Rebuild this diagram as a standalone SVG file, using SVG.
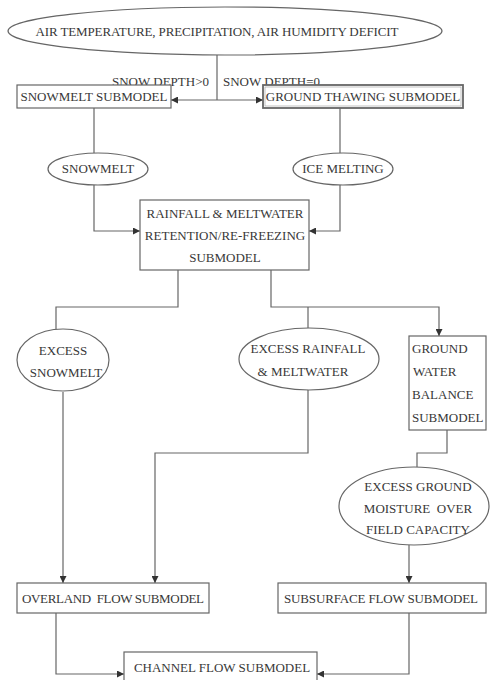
<svg xmlns="http://www.w3.org/2000/svg" width="491" height="680" viewBox="0 0 491 680">
<defs>
<marker id="arr" viewBox="0 0 10 10" refX="10" refY="5" markerWidth="7" markerHeight="7" markerUnits="userSpaceOnUse" orient="auto">
<path d="M0,0 L10,5 L0,10 z" fill="#333"/>
</marker>
<style>
.n{fill:#fff;stroke:#666;stroke-width:1.2}
.t{font-family:"Liberation Serif","Times New Roman",serif;font-size:13px;fill:#383838;text-anchor:middle}
.l{text-anchor:start}
.e{text-anchor:end}
.c{fill:none;stroke:#666;stroke-width:1.2}
.a{marker-end:url(#arr)}
</style>
</defs>
<rect width="491" height="680" fill="#fff"/>
<g id="connectors">
<path class="c" d="M217,55 V100"/>
<path class="c a" d="M217,100 H171"/>
<path class="c a" d="M217,100 H263"/>
<path class="c" d="M94,108 V153"/>
<path class="c" d="M340,108 V153"/>
<path class="c a" d="M94,185 V231 H140"/>
<path class="c a" d="M340,185 V231 H309"/>
<path class="c" d="M178,270 V307 H56 V330"/>
<path class="c a" d="M271,270 V307 H439 V336"/>
<path class="c" d="M308,307 V328"/>
<path class="c a" d="M63,392 V583"/>
<path class="c a" d="M308,389 V453 H155 V583"/>
<path class="c" d="M447,430 V453 H417 V467"/>
<path class="c a" d="M409,545 V583"/>
<path class="c a" d="M56,613 V674 H124"/>
<path class="c a" d="M409,613 V674 H317"/>
</g>
<g id="n-climate">
<ellipse class="n" cx="225" cy="31" rx="217" ry="24"/>
<text class="t" x="217" y="36" textLength="363">AIR TEMPERATURE, PRECIPITATION, AIR HUMIDITY DEFICIT</text>
</g>
<g id="lbl-depth">
<text class="t e" x="209" y="86">SNOW DEPTH&gt;0</text>
<text class="t l" x="223" y="86">SNOW DEPTH=0</text>
</g>
<g id="n-snowmelt-sub">
<rect class="n" x="17" y="85" width="154" height="23"/>
<text class="t" x="94" y="101">SNOWMELT SUBMODEL</text>
</g>
<g id="n-ground-thaw">
<rect class="n" x="263" y="85" width="200" height="23" style="stroke-width:1.8"/>
<rect x="265" y="87" width="196" height="19" fill="none" stroke="#999" stroke-width="0.6"/>
<text class="t" x="363" y="101">GROUND THAWING SUBMODEL</text>
</g>
<g id="n-snowmelt">
<ellipse class="n" cx="98" cy="169" rx="50" ry="16"/>
<text class="t" x="98" y="173">SNOWMELT</text>
</g>
<g id="n-icemelt">
<ellipse class="n" cx="343" cy="169" rx="50" ry="16"/>
<text class="t" x="343" y="173">ICE MELTING</text>
</g>
<g id="n-retention">
<rect class="n" x="140" y="200" width="169" height="70"/>
<text class="t" x="225" y="218">RAINFALL &amp; MELTWATER</text>
<text class="t" x="225" y="240">RETENTION/RE-FREEZING</text>
<text class="t" x="225" y="262">SUBMODEL</text>
</g>
<g id="n-excess-snowmelt">
<ellipse class="n" cx="63" cy="360" rx="46" ry="31"/>
<text class="t" x="63" y="355">EXCESS</text>
<text class="t" x="66" y="377">SNOWMELT</text>
</g>
<g id="n-excess-rain">
<ellipse class="n" cx="309" cy="359" rx="70" ry="31"/>
<text class="t" x="308" y="353">EXCESS RAINFALL</text>
<text class="t" x="303" y="376">&amp; MELTWATER</text>
</g>
<g id="n-groundwater">
<rect class="n" x="409" y="336" width="77" height="94"/>
<text class="t l" x="412" y="353">GROUND</text>
<text class="t l" x="413" y="376">WATER</text>
<text class="t l" x="412" y="399">BALANCE</text>
<text class="t l" x="412" y="422">SUBMODEL</text>
</g>
<g id="n-excess-ground">
<ellipse class="n" cx="414" cy="506" rx="75" ry="39"/>
<text class="t" x="418" y="491">EXCESS GROUND</text>
<text class="t" x="418" y="513" xml:space="preserve">MOISTURE  OVER</text>
<text class="t" x="418" y="534">FIELD CAPACITY</text>
</g>
<g id="n-overland">
<rect class="n" x="17" y="583" width="192" height="30"/>
<text class="t" x="113" y="603" xml:space="preserve" textLength="182">OVERLAND  FLOW SUBMODEL</text>
</g>
<g id="n-subsurface">
<rect class="n" x="278" y="583" width="208" height="30"/>
<text class="t" x="381" y="603" textLength="194">SUBSURFACE FLOW SUBMODEL</text>
</g>
<g id="n-channel">
<rect class="n" x="124" y="652" width="193" height="40"/>
<text class="t" x="222" y="672">CHANNEL FLOW SUBMODEL</text>
</g>
</svg>
